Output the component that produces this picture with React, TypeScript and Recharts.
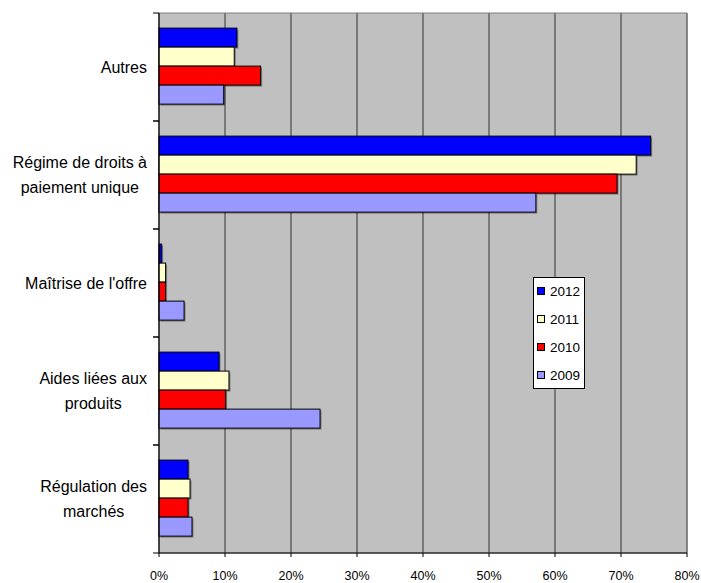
import React from "react";
import { Bar, BarChart, CartesianGrid, Legend, ReferenceArea, XAxis, YAxis } from "recharts";

const categories = [
  "Autres",
  "Régime de droits à\npaiement unique",
  "Maîtrise de l'offre",
  "Aides liées aux\nproduits",
  "Régulation des\nmarchés",
];
const values2012 = [11.8, 74.5, 0.4, 9.1, 4.4];
const values2011 = [11.4, 72.3, 1.0, 10.6, 4.7];
const values2010 = [15.4, 69.4, 1.0, 10.1, 4.4];
const values2009 = [9.8, 57.1, 3.8, 24.4, 5.0];
const xTicks = [0, 10, 20, 30, 40, 50, 60, 70, 80];

const series = [
  { key: "y2012", name: "2012", color: "#0000FF" },
  { key: "y2011", name: "2011", color: "#FFFFCC" },
  { key: "y2010", name: "2010", color: "#FF0000" },
  { key: "y2009", name: "2009", color: "#9999FF" },
];

const data = categories.map((c, i) => ({
  cat: c,
  y2012: values2012[i],
  y2011: values2011[i],
  y2010: values2010[i],
  y2009: values2009[i],
}));

const FONT = "'Liberation Sans', Arial, sans-serif";
const LABEL_SIZE = 16;

let ctx: CanvasRenderingContext2D | null = null;
function textWidth(s: string) {
  if (!ctx) ctx = document.createElement("canvas").getContext("2d");
  if (!ctx) return s.length * 8;
  ctx.font = `${LABEL_SIZE}px ${FONT}`;
  return ctx.measureText(s).width;
}

function CategoryTick(props: any) {
  const { x, y, payload } = props;
  const lines = String(payload.value).split("\n");
  const maxW = Math.max(...lines.map(textWidth));
  const right = x - 4;
  const cx = right - maxW / 2;
  const half = payload.offset || 54;
  const axisX = x + 8;
  return (
    <g>
      {lines.map((l, i) => (
        <text
          key={i}
          x={cx}
          y={y + (i - (lines.length - 1) / 2) * 25}
          dy="0.35em"
          textAnchor="middle"
          fontSize={LABEL_SIZE}
          fontFamily={FONT}
          fill="#000"
        >
          {l}
        </text>
      ))}
      <line x1={axisX - 6} x2={axisX} y1={y - half} y2={y - half} stroke="#000" />
      <line x1={axisX - 6} x2={axisX} y1={y + half} y2={y + half} stroke="#000" />
    </g>
  );
}

function ShadowBar(props: any) {
  const { x, y, width, height, fill } = props;
  if (!width || width <= 0) return null;
  return (
    <g>
      <rect x={x + 1.5} y={y + 1.5} width={width} height={height} fill="#000" opacity={0.35} />
      <rect x={x} y={y} width={width} height={height} fill={fill} stroke="#000" strokeWidth={1} />
    </g>
  );
}

function LegendBox() {
  return (
    <div
      style={{
        width: 50,
        height: 110,
        background: "#fff",
        border: "1px solid #000",
        fontFamily: FONT,
        fontSize: 13.5,
        boxSizing: "content-box",
      }}
    >
      {series.map((s, i) => (
        <div
          key={s.key}
          style={{ position: "absolute", left: 4, top: 7 + i * 28, display: "flex", alignItems: "center", height: 14 }}
        >
          <span
            style={{ display: "inline-block", width: 6, height: 6, background: s.color, border: "1px solid #000", marginRight: 5 }}
          />
          <span style={{ color: "#000" }}>{s.name}</span>
        </div>
      ))}
    </div>
  );
}

export default function App() {
  return (
    <>
      <style>{`body{margin:0;overflow:hidden;}`}</style>
      <BarChart
        width={701}
        height={583}
        data={data}
        layout="vertical"
        margin={{ top: 13, right: 14, bottom: 0, left: 0 }}
        barCategoryGap="14%"
        barGap={0}
      >
        <CartesianGrid horizontal={false} fill="#C0C0C0" stroke="#333" verticalValues={xTicks} />
        <ReferenceArea x1={0} x2={80} fill="none" stroke="#808080" strokeWidth={1} ifOverflow="visible" />
        <XAxis
          type="number"
          domain={[0, 80]}
          ticks={xTicks}
          tickFormatter={(v) => `${v}%`}
          tick={{ fontSize: 12.5, fontFamily: FONT, fill: "#000" }}
          tickSize={4}
          tickMargin={14}
          axisLine={{ stroke: "#000" }}
          tickLine={{ stroke: "#000" }}
          height={30}
          interval={0}
        />
        <YAxis
          type="category"
          dataKey="cat"
          width={159}
          tick={<CategoryTick />}
          tickLine={false}
          axisLine={{ stroke: "#000" }}
          interval={0}
        />
        <Legend
          layout="vertical"
          align="center"
          verticalAlign="middle"
          content={() => <LegendBox />}
          wrapperStyle={{ position: "absolute", left: 533, top: 277, width: 52, height: 112, margin: 0 }}
        />
        {series.map((s) => (
          <Bar
            key={s.key}
            dataKey={s.key}
            name={s.name}
            fill={s.color}
            shape={<ShadowBar />}
            isAnimationActive={false}
          />
        ))}
      </BarChart>
    </>
  );
}
